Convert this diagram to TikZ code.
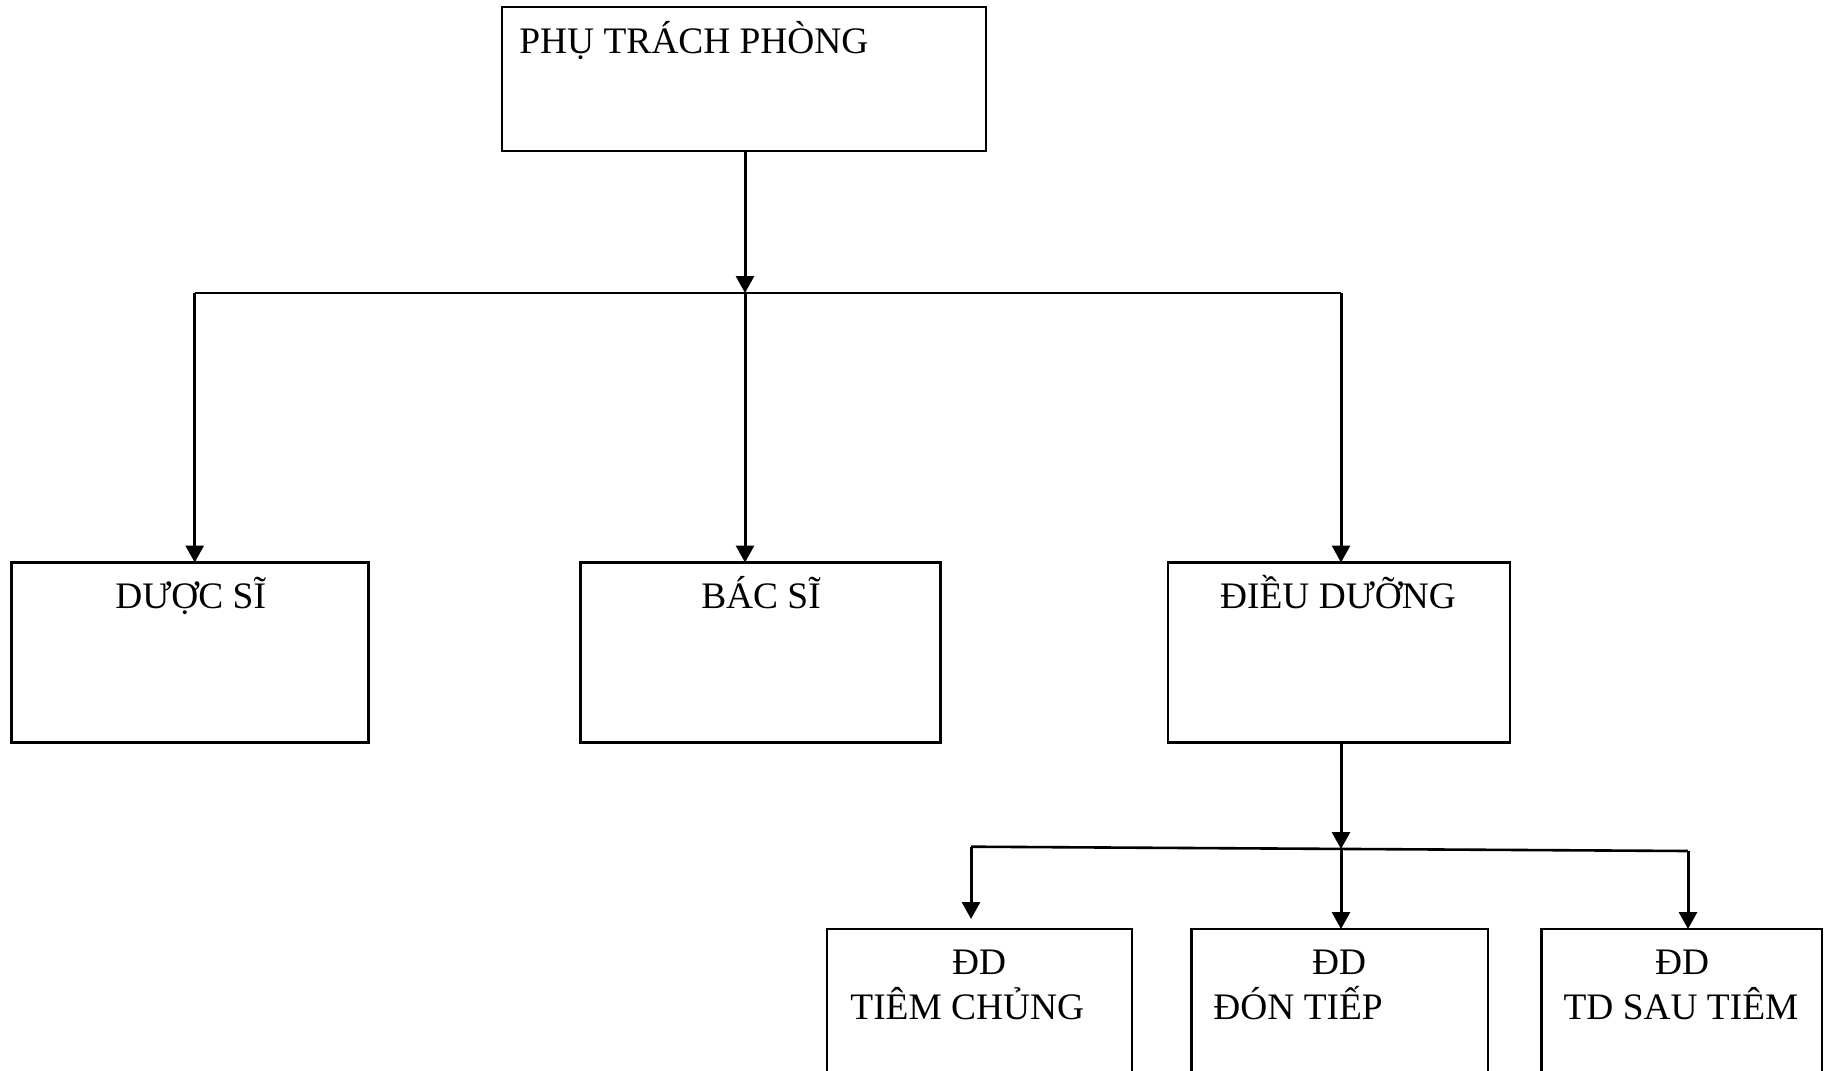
\documentclass[tikz,border=0pt]{standalone}
\usepackage{fontspec}
\setmainfont{Liberation Serif}
\usetikzlibrary{arrows.meta}

\begin{document}
\begin{tikzpicture}[x=0.5pt,y=-0.5pt,
    box/.style={draw,line width=1.1pt,inner sep=0pt,outer sep=0pt},
    txt/.style={inner sep=0pt,font=\fontsize{18.7}{23}\selectfont},
    arr/.style={-{Triangle[length=8.5pt,width=9pt]},line width=1.5pt}]
    \useasboundingbox (0,0) rectangle (1837,1071);
    \clip (0,0) rectangle (1837,1071);
    \node[box,minimum width=242pt,minimum height=72pt] (truong) at (744,79) {};
    \node[box,minimum width=178.5pt,minimum height=90pt] (duocsi) at (190,652.5) {};
    \node[box,minimum width=180pt,minimum height=90pt] (bacsi) at (760.5,652.5) {};
    \node[box,minimum width=171pt,minimum height=90pt] (dieuduong) at (1338.7,652.5) {};
    \node[box,minimum width=152.2pt,minimum height=85.5pt] (tiem) at (979.5,1014.5) {};
    \node[box,minimum width=148.2pt,minimum height=85.5pt] (dontiep) at (1339.7,1014.5) {};
    \node[box,minimum width=140.3pt,minimum height=85.5pt] (sautiem) at (1681.7,1014.5) {};
    \node[txt,anchor=base west] (truongText) at (519,53) {PHỤ TRÁCH PHÒNG};
    \node[txt,anchor=base] (duocsiText) at (190.7,608) {DƯỢC SĨ};
    \node[txt,anchor=base] (bacsiText) at (761,608) {BÁC SĨ};
    \node[txt,anchor=base] (dieuduongText) at (1338,608) {ĐIỀU DƯỠNG};
    \node[txt,anchor=base] (tiemDD) at (979,974) {ĐD};
    \node[txt,anchor=base west] (tiemText) at (850,1019.3) {TIÊM CHỦNG};
    \node[txt,anchor=base] (dontiepDD) at (1339,974) {ĐD};
    \node[txt,anchor=base west] (dontiepText) at (1213,1019.3) {ĐÓN TIẾP};
    \node[txt,anchor=base] (sautiemDD) at (1682,974) {ĐD};
    \node[txt,anchor=base] (sautiemText) at (1681,1019.3) {TD SAU TIÊM};
    \coordinate (jL) at (194.7,293);
    \coordinate (jM) at (745,293);
    \coordinate (jR) at (1341,293);
    \coordinate (kL) at (971,846.7);
    \coordinate (kM) at (1341,849);
    \coordinate (kR) at (1688,851);
    \coordinate (tipL) at (971,919);
    \draw[arr] (truong.south -| jM) -- (jM);
    \draw[line width=1.1pt] (jL) -- (jR);
    \draw[arr] (jL) -- (jL |- duocsi.north);
    \draw[arr] (jM) -- (jM |- bacsi.north);
    \draw[arr] (jR) -- (jR |- dieuduong.north);
    \draw[arr] (dieuduong.south -| kM) -- (kM);
    \draw[line width=1.3pt] (kL) -- (kR);
    \draw[arr] (kL) -- (tipL);
    \draw[arr] (kM) -- (kM |- dontiep.north);
    \draw[arr] (kR) -- (kR |- sautiem.north);
\end{tikzpicture}
\end{document}
